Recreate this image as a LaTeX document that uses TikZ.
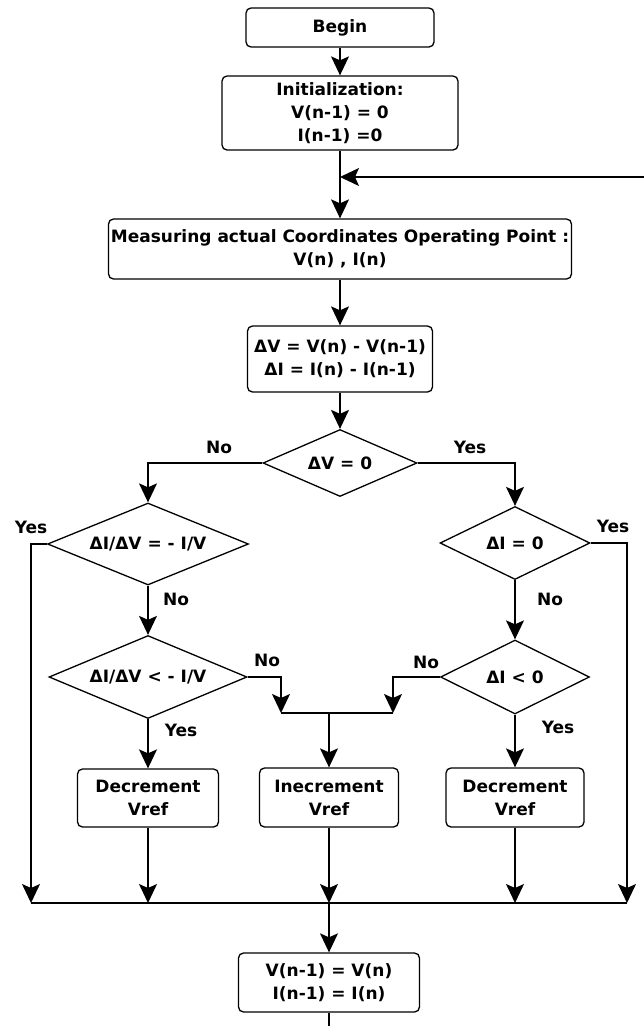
\documentclass[tikz,border=0pt]{standalone}
\usepackage{fontspec}
\setmainfont{DejaVu Sans}
\usetikzlibrary{shapes.geometric,arrows.meta}
\begin{document}
\begin{tikzpicture}[x=1pt,y=-1pt,
  font=\bfseries\fontsize{17}{23}\selectfont,
  line width=1.3pt,
  box/.style={draw, rounded corners=5pt, align=center, inner sep=0pt},
  dia/.style={draw, diamond, inner sep=0pt},
  arr/.style={-{Stealth[length=19pt,width=18pt,inset=4pt]}},
  lab/.style={inner sep=0pt},
]
\useasboundingbox (0,0) rectangle (644,1026);

\node[box, minimum width=188pt, minimum height=39pt] (begin) at (340,27.5) {Begin};
\node[box, minimum width=236pt, minimum height=74pt] (init) at (340,113) {Initialization:\\V(n-1) = 0\\I(n-1) =0};
\node[box, minimum width=463pt, minimum height=60pt] (meas) at (340,249) {Measuring actual Coordinates Operating Point :\\V(n) , I(n)};
\node[box, minimum width=185pt, minimum height=66pt] (delta) at (340,359) {ΔV = V(n) - V(n-1)\\ΔI = I(n) - I(n-1)};

\node[dia, minimum width=154pt, minimum height=67pt, label={center:ΔV = 0}] (d0) at (340,463) {};
\node[dia, minimum width=201pt, minimum height=82pt, label={center:ΔI/ΔV = - I/V}] (dL1) at (148,544) {};
\node[dia, minimum width=150pt, minimum height=73pt, label={center:ΔI = 0}] (dR1) at (515,543) {};
\node[dia, minimum width=198pt, minimum height=83pt, label={center:ΔI/ΔV < - I/V}] (dL2) at (148,677) {};
\node[dia, minimum width=149pt, minimum height=74pt, label={center:ΔI < 0}] (dR2) at (515,677) {};

\node[box, minimum width=141pt, minimum height=58pt] (decL) at (148,798) {Decrement\\Vref};
\node[box, minimum width=139pt, minimum height=59pt] (inc) at (329,797.5) {Inecrement\\Vref};
\node[box, minimum width=138pt, minimum height=59pt] (decR) at (515,797.5) {Decrement\\Vref};
\node[box, minimum width=181pt, minimum height=59pt] (fin) at (329,982.5) {V(n-1) = V(n)\\I(n-1) = I(n)};

\coordinate (loop) at (644,177);
\coordinate (bl) at (31,903);
\coordinate (br) at (627,903);
\coordinate (ml) at (281,713);
\coordinate (mr) at (393,713);
\coordinate (bottom) at (329,1026);

\draw[arr] (begin) -- (init);
\draw[arr] (init) -- (meas);
\draw[arr] (loop) -- (loop -| init);
\draw[arr] (meas) -- (delta);
\draw[arr] (delta) -- (d0);
\draw[arr] (d0.west) -| (dL1.north);
\draw[arr] (d0.east) -| (dR1.north);
\draw[arr] (dL1.west) -| (bl);
\draw[arr] (dR1.east) -| (br);
\draw[arr] (dL1.south) -- (dL2.north);
\draw[arr] (dR1.south) -- (dR2.north);
\draw[arr] (dL2.east) -| (ml);
\draw[arr] (dR2.west) -| (mr);
\draw (ml) -- (mr);
\draw[arr] (inc.north |- ml) -- (inc.north);
\draw[arr] (dL2.south) -- (decL.north);
\draw[arr] (dR2.south) -- (decR.north);
\draw[arr] (decL.south) -- (decL.south |- bl);
\draw[arr] (inc.south) -- (inc.south |- bl);
\draw[arr] (decR.south) -- (decR.south |- bl);
\draw (bl) -- (br);
\draw[arr] (inc.south |- bl) -- (fin.north);
\draw (fin.south) -- (bottom);

\node[lab] (n1) at (219,447) {No};
\node[lab] (y1) at (470,447) {Yes};
\node[lab] (y2) at (31,527) {Yes};
\node[lab] (y3) at (613,526) {Yes};
\node[lab] (n2) at (176,599) {No};
\node[lab] (n3) at (550,599) {No};
\node[lab] (n4) at (267,660) {No};
\node[lab] (n5) at (426,662) {No};
\node[lab] (y4) at (181,730) {Yes};
\node[lab] (y5) at (558,727) {Yes};
\end{tikzpicture}
\end{document}
